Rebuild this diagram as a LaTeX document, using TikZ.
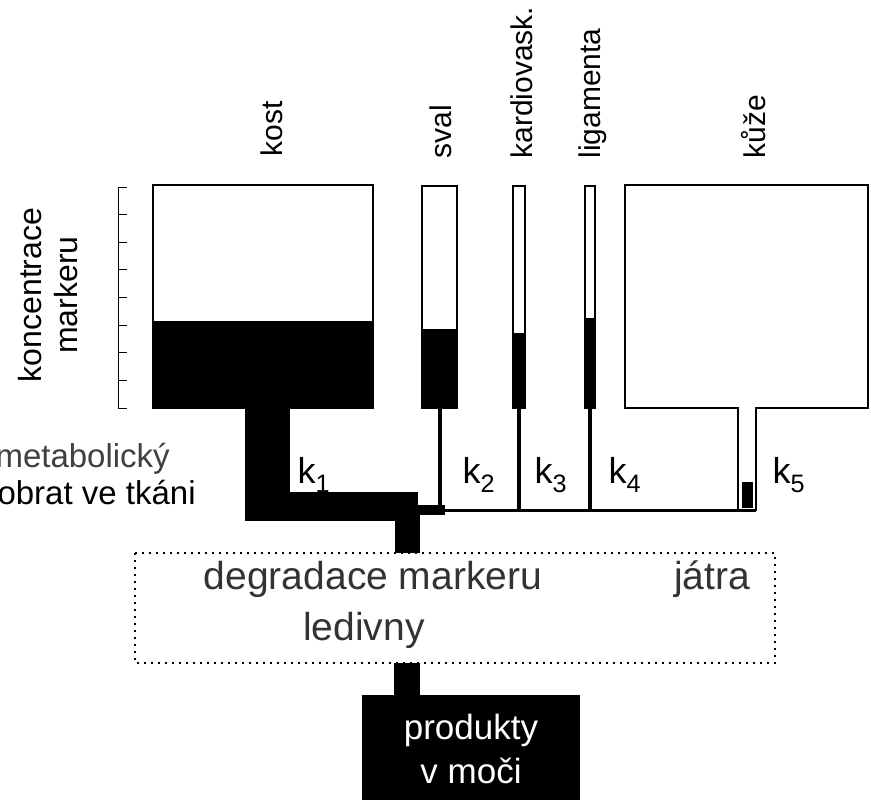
\documentclass[tikz,border=0pt]{standalone}
\usepackage{fontspec}
\setmainfont{Liberation Sans}
\begin{document}
\begin{tikzpicture}[x=1pt,y=-1pt,
  cont/.style={draw=black,line width=1.3pt,fill=white},
  blk/.style={fill=black,draw=none},
  lab/.style={font=\fontsize{30}{32}\selectfont,rotate=90,anchor=west},
  big/.style={font=\fontsize{39}{46}\selectfont,text=black!80},
  kk/.style={font=\fontsize{36}{38}\selectfont}]
\useasboundingbox (0,0) rectangle (871,800);
\clip (0,0) rectangle (871,800);
% axis
\draw[line width=1pt] (118,187) -- (118,408);
\foreach \y in {187,214.6,242.2,269.9,297.5,325.1,352.7,380.4,408}
  \draw[line width=1pt] (118,\y) -- (127,\y);
\node[font=\fontsize{32}{36}\selectfont,rotate=90,align=center] (ax) at (48,295) {koncentrace\\markeru};
% containers
\draw[cont] (153,185) rectangle (373,408);
\fill[blk] (153,321) rectangle (373,408);
\draw[cont] (422,186) rectangle (457,408);
\fill[blk] (422,329) rectangle (457,408);
\draw[cont] (513,186) rectangle (525,408);
\fill[blk] (513,333) rectangle (525,408);
\draw[cont] (585,186) rectangle (595,408);
\fill[blk] (585,318) rectangle (595,408);
\draw[cont] (625,185) -- (868,185) -- (868,408) -- (756,408) -- (756,510) -- (738,510) -- (738,408) -- (625,408) -- cycle;
\fill[blk] (742,482) rectangle (753,508);
% labels
\node[lab] (l1) at (272,160) {kost};
\node[lab] (l2) at (441,162) {sval};
\node[lab] (l3) at (522,162) {kardiovask.};
\node[lab] (l4) at (593,162) {ligamenta};
\node[lab] (l5) at (754,162) {kůže};
% pipes
\fill[blk] (245,408) rectangle (290,521);
\fill[blk] (245,492) rectangle (418,521);
\fill[blk] (395,505) rectangle (420,553);
\fill[blk] (418,505) rectangle (445,515);
\draw[line width=3pt] (418,510) -- (756,510);
\draw[line width=4pt] (440,408) -- (440,512);
\draw[line width=3.5pt] (519,408) -- (519,511);
\draw[line width=3.5pt] (590,408) -- (590,511);
% k labels
\node[kk] (k1) at (314,475) {k\textsubscript{1}};
\node[kk] (k2) at (479,475) {k\textsubscript{2}};
\node[kk] (k3) at (551,475) {k\textsubscript{3}};
\node[kk] (k4) at (625,475) {k\textsubscript{4}};
\node[kk] (k5) at (789,475) {k\textsubscript{5}};
\node[font=\fontsize{33}{36}\selectfont,text=black!75,anchor=west] (m1) at (-8,459) {metabolický};
\node[font=\fontsize{33}{36}\selectfont,anchor=west] (m2) at (-6,493) {obrat ve tkáni};
% liver box
\draw[line width=2pt,dash pattern=on 2pt off 5pt] (135,553) rectangle (775,663);
\node[big] (d) at (373,579) {degradace markeru};
\node[big] (j) at (712,579) {játra};
\node[big] (l) at (364,630) {ledivny};
% products
\fill[blk] (394,663) rectangle (420,697);
\fill[blk] (362,695) rectangle (580,800);
\node[font=\fontsize{35}{44}\selectfont,text=white,align=center] (p) at (471,749) {produkty\\v moči};
\end{tikzpicture}
\end{document}
